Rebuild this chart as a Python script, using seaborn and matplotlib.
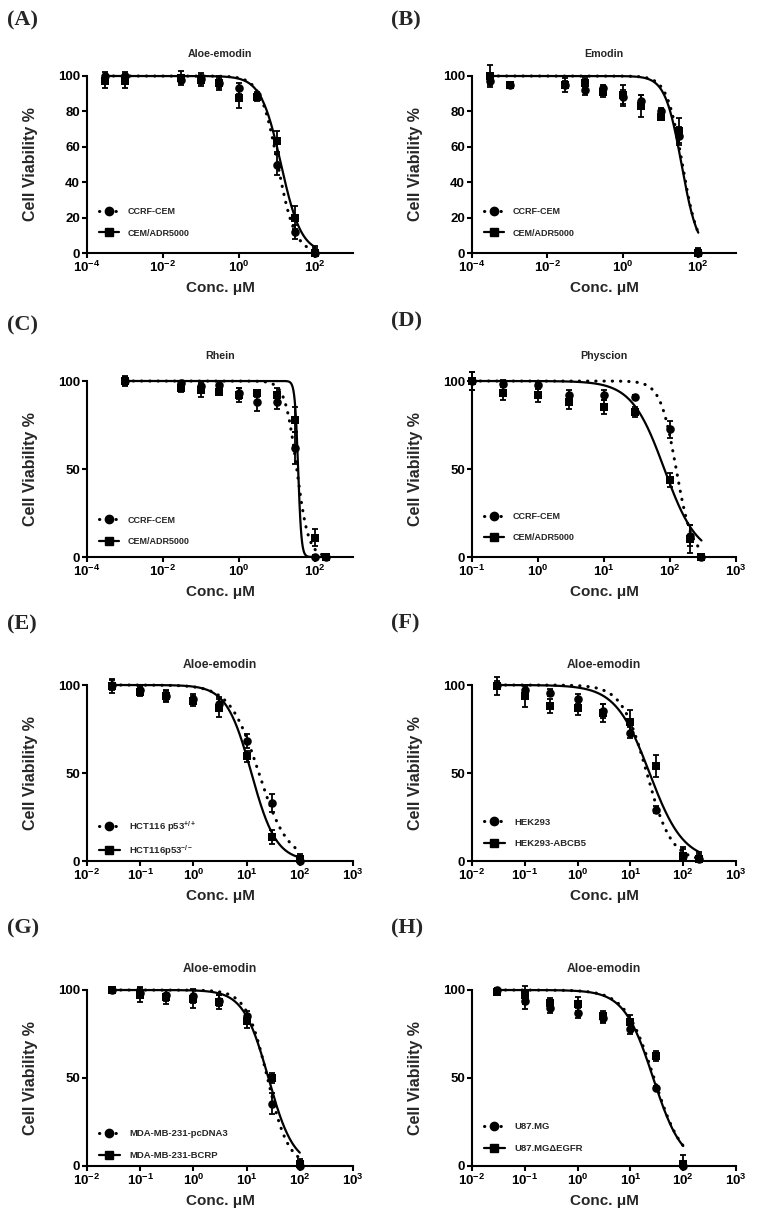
import numpy as np
import pandas as pd
import seaborn as sns
import matplotlib
matplotlib.use('Agg')
import matplotlib.pyplot as plt
from matplotlib.lines import Line2D
from matplotlib.ticker import NullLocator

sns.set_style('ticks')
plt.rcParams['font.family'] = ['Liberation Sans', 'DejaVu Sans']
plt.rcParams['font.weight'] = 'bold'
plt.rcParams['axes.labelweight'] = 'bold'
plt.rcParams['axes.titleweight'] = 'bold'
plt.rcParams['mathtext.fontset'] = 'custom'
plt.rcParams['mathtext.rm'] = 'Liberation Sans:bold'
plt.rcParams['mathtext.default'] = 'regular'

# (A) Aloe-emodin, leukemia cells
conc_A = [3e-4, 1e-3, 3e-2, 0.1, 0.3, 1, 3, 10, 30, 100]
circ_A = [100, 100, 98, 98.5, 96, 93, 89, 50, 12, 0]
circ_err_A = [2, 2, 2, 3, 3, 3, 2, 6, 4, 3]
sq_A = [97, 97, 99, 97.5, 96, 87.5, 88, 63, 20, 0]
sq_err_A = [3.5, 4, 4, 3, 4, 5.5, 2, 6, 6.5, 4]
fit_A = [(10.5, 1.9), (12.8, 1.63)]  # (IC50, hill) circle / square

# (B) Emodin
conc_B = [3e-4, 1e-3, 3e-2, 0.1, 0.3, 1, 3, 10, 30, 100]
circ_B = [97, 95, 95, 92, 93, 88, 86, 80, 66, 0]
circ_err_B = [2, 1, 2, 3, 2, 4, 3, 2, 5, 2]
sq_B = [100, 95, 95, 96, 91, 89, 83, 77, 69, 0]
sq_err_B = [6, 1, 4, 3, 3, 6, 6, 2, 7, 3]
fit_B = [(38, 2.1), (36, 2.0)]

# (C) Rhein
conc_C = [1e-3, 3e-2, 0.1, 0.3, 1, 3, 10, 30, 100, 200]
circ_C = [100, 99, 97, 97.5, 93, 88, 88, 62, 0, 0]
circ_err_C = [2, 1, 3, 1, 3, 5, 4, 9, 1, 1]
sq_C = [100, 96, 95, 94, 92, 93, 92, 78, 11, 0]
sq_err_C = [3, 2, 4, 2, 4, 2, 4, 7, 5, 1]
fit_C = [(33, 2.8), (36, 10)]

# (D) Physcion
conc_D = [0.1, 0.3, 1, 3, 10, 30, 100, 200, 300]
circ_D = [100, 98.5, 97.5, 92, 92, 91, 72.5, 12, 0]
circ_err_D = [5, 2, 2, 3, 3, 1, 5, 6, 1]
sq_D = [100, 93, 92, 88, 85, 82.5, 44, 10, 0]
sq_err_D = [5, 4, 4, 4, 4, 3, 4, 8, 1]
fit_D = [(124, 3.6), (82, 1.75)]

# (E) Aloe-emodin, HCT116
conc_E = [0.03, 0.1, 0.3, 1, 3, 10, 30, 100]
circ_E = [100, 97, 94, 92, 89, 68, 33, 0]
circ_err_E = [3, 2, 3, 3, 4, 4, 5, 2]
sq_E = [99.5, 96, 93.5, 91, 87, 59.5, 13.5, 1]
sq_err_E = [4, 2, 3, 3, 5, 3, 4, 3]
fit_E = [(17, 1.6), (12.3, 1.86)]

# (F) Aloe-emodin, HEK293
conc_F = [0.03, 0.1, 0.3, 1, 3, 10, 30, 100, 200]
circ_F = [100, 97, 95.5, 92, 85, 73, 29, 3, 1]
circ_err_F = [2, 3, 2, 3, 4, 3, 2, 4, 3]
sq_F = [99.5, 93.5, 88, 87, 84, 79, 54, 3, 1]
sq_err_F = [5, 6, 4, 4, 5, 7, 6, 5, 4]
fit_F = [(20.4, 1.85), (23, 1.35)]

# (G) Aloe-emodin, MDA-MB-231
conc_G = [0.03, 0.1, 0.3, 1, 3, 10, 30, 100]
circ_G = [100, 98.5, 97, 96.5, 94, 85, 35.5, 0]
circ_err_G = [1, 3, 3, 4, 3, 3, 6, 2]
sq_G = [100, 97, 96, 95, 93, 82.5, 50, 1]
sq_err_G = [1, 4, 4, 5, 4, 4, 3, 3]
fit_G = [(24.6, 2.19), (25.7, 1.84)]

# (H) Aloe-emodin, U87.MG
conc_H = [0.03, 0.1, 0.3, 1, 3, 10, 30, 100]
circ_H = [100, 94, 90, 87, 84, 78, 44.5, 0]
circ_err_H = [1, 5, 3, 3, 3, 3, 1, 3]
sq_H = [99, 97, 92.5, 92, 85, 82, 62.5, 1]
sq_err_H = [2, 5, 3, 4, 3, 4, 3, 5]
fit_H = [(28, 1.6), (27, 1.57)]

panels = [
    ('(A)', 'Aloe-emodin', conc_A, circ_A, circ_err_A, sq_A, sq_err_A, fit_A, ['CCRF-CEM', 'CEM/ADR5000']),
    ('(B)', 'Emodin', conc_B, circ_B, circ_err_B, sq_B, sq_err_B, fit_B, ['CCRF-CEM', 'CEM/ADR5000']),
    ('(C)', 'Rhein', conc_C, circ_C, circ_err_C, sq_C, sq_err_C, fit_C, ['CCRF-CEM', 'CEM/ADR5000']),
    ('(D)', 'Physcion', conc_D, circ_D, circ_err_D, sq_D, sq_err_D, fit_D, ['CCRF-CEM', 'CEM/ADR5000']),
    ('(E)', 'Aloe-emodin', conc_E, circ_E, circ_err_E, sq_E, sq_err_E, fit_E,
     ['HCT116 p53$^{+/+}$', 'HCT116p53$^{-/-}$']),
    ('(F)', 'Aloe-emodin', conc_F, circ_F, circ_err_F, sq_F, sq_err_F, fit_F, ['HEK293', 'HEK293-ABCB5']),
    ('(G)', 'Aloe-emodin', conc_G, circ_G, circ_err_G, sq_G, sq_err_G, fit_G,
     ['MDA-MB-231-pcDNA3', 'MDA-MB-231-BCRP']),
    ('(H)', 'Aloe-emodin', conc_H, circ_H, circ_err_H, sq_H, sq_err_H, fit_H, ['U87.MG', 'U87.MG\u0394EGFR']),
]

W, H = 757, 1219
fig = plt.figure(figsize=(W / 100, H / 100), dpi=100)

# pixel layout: (axes left, axes right, y=100 row, y=0 row)
col_px = [(87, 353), (472, 736)]
row_px = [(76, 253), (381, 557), (685, 861), (990, 1166)]
letter_px = [(7, 20), (391, 20), (7, 325), (391, 321), (7, 624), (391, 623), (7, 928), (391, 928)]
legend_y = [0.172, 0.172, 0.15, 0.17, 0.128, 0.159, 0.122, 0.162]
title_pad = [14, 14, 16, 16, 12, 12, 13, 13]

DOT = (0, (0.1, 2.6))


def logistic(x, ic50, hill):
    return 100.0 / (1.0 + (x / ic50) ** hill)


for i, (letter, title, conc, circ, circ_err, sq, sq_err, fit, labels) in enumerate(panels):
    l, r = col_px[i % 2]
    t, b = row_px[i // 2]
    ax = fig.add_axes([l / W, 1 - b / H, (r - l) / W, (b - t) / H])
    ax.set_xscale('log')

    conc = np.array(conc, dtype=float)
    series = [(np.array(circ, float), np.array(circ_err, float), 'o', DOT, 2.2),
              (np.array(sq, float), np.array(sq_err, float), 's', '-', 1.6)]
    for (vals, err, mk, ls, lw), (ic50, hill) in zip(series, fit):
        xs = np.logspace(np.log10(conc[0]), np.log10(conc[-1]), 300)
        curve = pd.DataFrame({'x': xs, 'y': logistic(xs, ic50, hill)})
        sns.lineplot(data=curve, x='x', y='y', ax=ax, color='black', lw=lw,
                     linestyle=ls, dash_capstyle='round', clip_on=False, zorder=2)
        ax.errorbar(conc, vals, yerr=[np.minimum(err, vals), err], fmt='none',
                    ecolor='black', elinewidth=1.3, capsize=2.5, capthick=1.3,
                    clip_on=False, zorder=3)
        sns.scatterplot(x=conc, y=vals, marker=mk, s=38, color='black',
                        linewidth=0, ax=ax, clip_on=False, zorder=4, legend=False)

    if i < 3:
        ax.set_xlim(1e-4, 1e3)
        ax.set_xticks([1e-4, 1e-2, 1e0, 1e2])
    elif i == 3:
        ax.set_xlim(1e-1, 1e3)
        ax.set_xticks([1e-1, 1e0, 1e1, 1e2, 1e3])
    else:
        ax.set_xlim(1e-2, 1e3)
        ax.set_xticks([1e-2, 1e-1, 1e0, 1e1, 1e2, 1e3])
    ax.xaxis.set_minor_locator(NullLocator())
    ax.set_ylim(0, 100)
    ax.set_yticks([0, 20, 40, 60, 80, 100] if i < 2 else [0, 50, 100])

    sns.despine(ax=ax)
    for s in ['left', 'bottom']:
        ax.spines[s].set_linewidth(1.5)
        ax.spines[s].set_color('black')
    ax.tick_params(axis='both', length=3.5, width=1.5, pad=1.5, labelsize=9.5,
                   colors='black', direction='out')

    ax.set_xlabel('Conc. \u03bcM', fontsize=11, labelpad=4)
    ax.set_ylabel('Cell Viability %', fontsize=11.5, labelpad=14)
    ax.set_title(title, fontsize=7.7 if i < 4 else 8.7, pad=title_pad[i])

    handles = [Line2D([], [], color='black', ls=DOT, lw=2.2, dash_capstyle='round', marker='o', ms=6),
               Line2D([], [], color='black', ls='-', lw=1.6, marker='s', ms=6)]
    ax.legend(handles, labels, loc='center left', bbox_to_anchor=(0.045, legend_y[i]),
              frameon=False, fontsize=6.5 if i < 4 else 6.8, handlelength=2.2,
              handletextpad=1.0, labelspacing=1.35 if i != 4 else 1.0,
              borderpad=0, borderaxespad=0)

    lx, ly = letter_px[i]
    fig.text(lx / W, 1 - ly / H, letter, fontsize=16, fontweight='bold',
             family=['Liberation Serif', 'DejaVu Serif'], ha='left', va='center')

fig.savefig('out.png', dpi=100, facecolor='white')
